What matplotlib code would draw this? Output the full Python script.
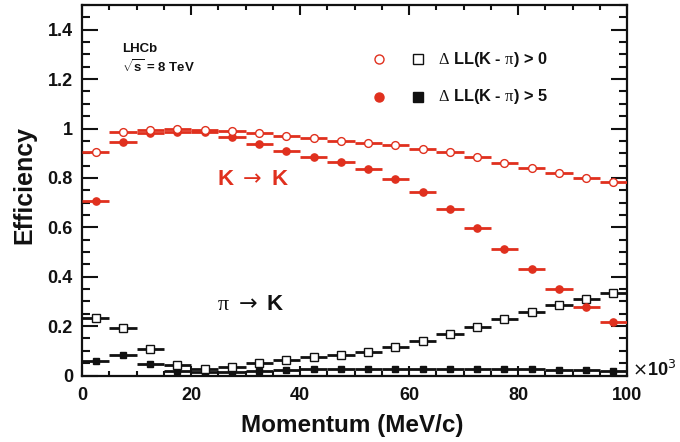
import matplotlib
matplotlib.use("Agg")
import matplotlib.pyplot as plt
from matplotlib.ticker import MultipleLocator, FuncFormatter
from matplotlib.lines import Line2D

plt.rcParams['font.family'] = ['Liberation Sans', 'DejaVu Sans']
plt.rcParams['mathtext.fontset'] = 'custom'
plt.rcParams['mathtext.rm'] = 'DejaVu Sans'
plt.rcParams['mathtext.sf'] = 'Liberation Serif'
plt.rcParams['mathtext.bf'] = 'Liberation Sans:bold'
plt.rcParams['mathtext.it'] = 'Liberation Sans:italic'
plt.rcParams['mathtext.default'] = 'rm'

# momentum bin centres (x10^3 MeV/c), bin half width 2.5
momentum = [2.5, 7.5, 12.5, 17.5, 22.5, 27.5, 32.5, 37.5, 42.5, 47.5,
            52.5, 57.5, 62.5, 67.5, 72.5, 77.5, 82.5, 87.5, 92.5, 97.5]
bin_half = 2.5

k_to_k_dll0 = [0.905, 0.986, 0.994, 0.996, 0.994, 0.990, 0.980, 0.970, 0.961, 0.951,
               0.943, 0.935, 0.919, 0.903, 0.884, 0.862, 0.840, 0.820, 0.800, 0.782]
k_to_k_dll5 = [0.708, 0.947, 0.980, 0.986, 0.984, 0.966, 0.939, 0.909, 0.886, 0.863,
               0.835, 0.794, 0.742, 0.676, 0.596, 0.514, 0.433, 0.349, 0.278, 0.216]
pi_to_k_dll0 = [0.234, 0.193, 0.107, 0.042, 0.026, 0.035, 0.049, 0.062, 0.073, 0.085,
                0.097, 0.116, 0.139, 0.169, 0.197, 0.227, 0.257, 0.285, 0.311, 0.334]
pi_to_k_dll5 = [0.060, 0.081, 0.047, 0.019, 0.013, 0.016, 0.020, 0.024, 0.026, 0.027,
                0.027, 0.027, 0.028, 0.028, 0.028, 0.028, 0.027, 0.024, 0.021, 0.020]

x_ticks = [0, 20, 40, 60, 80, 100]
y_ticks = [0, 0.2, 0.4, 0.6, 0.8, 1.0, 1.2, 1.4]

RED = '#e0301e'
BLK = '#111111'

fig = plt.figure(figsize=(6.8, 4.42), dpi=100)
ax = fig.add_axes([82/680, 1-375.5/442, (627-82)/680, (375.5-5)/442])

def draw(y, marker, face, edge, ms, z):
    ax.errorbar(momentum, y, xerr=bin_half, fmt=marker, mfc=face, mec=edge,
                ecolor=edge, ms=ms, mew=1.0, elinewidth=2.0, capsize=0, zorder=z)

draw(pi_to_k_dll5, 's', BLK, BLK, 5, 3)
draw(pi_to_k_dll0, 's', 'white', BLK, 5.3, 4)
draw(k_to_k_dll5, 'o', RED, RED, 5.2, 5)
draw(k_to_k_dll0, 'o', 'white', RED, 5.6, 6)

ax.set_xlim(0, 100)
ax.set_ylim(0, 1.5)
ax.set_xticks(x_ticks)
ax.set_yticks(y_ticks)
ax.xaxis.set_minor_locator(MultipleLocator(5))
ax.yaxis.set_minor_locator(MultipleLocator(0.05))
ax.yaxis.set_major_formatter(FuncFormatter(lambda v, p: f"{v:g}"))
ax.xaxis.set_major_formatter(FuncFormatter(lambda v, p: f"{v:g}"))
ax.tick_params(which='both', direction='in', top=True, right=True, width=1.5,
               labelsize=13, colors=BLK)
ax.tick_params(axis='y', which='major', length=11.5, pad=6.5)
ax.tick_params(axis='y', which='minor', length=5.8)
ax.tick_params(axis='x', which='major', length=7, pad=8)
ax.tick_params(axis='x', which='minor', length=3.6)
for lab in ax.get_xticklabels() + ax.get_yticklabels():
    lab.set_fontweight('bold')
for s in ax.spines.values():
    s.set_linewidth(1.6)
    s.set_color(BLK)

fig.text(24/680, 1-185/442, 'Efficiency', rotation=90, ha='center', va='center',
         fontsize=18, fontweight='bold', color=BLK)
fig.text(352/680, 1-432/442, 'Momentum (MeV/c)', ha='center', va='baseline',
         fontsize=17.5, fontweight='bold', color=BLK)
fig.text(632/680, 1-376/442, r'$\times$10$^{3}$', ha='left', va='baseline',
         fontsize=13, fontweight='bold', color=BLK)

ax.text(0.073, 0.882, 'LHCb', transform=ax.transAxes, ha='left', va='center',
        fontsize=9.5, fontweight='bold', color=BLK)
ax.text(0.073, 0.835, r'$\sqrt{\mathbf{s}}$ = 8 TeV', transform=ax.transAxes,
        ha='left', va='center', fontsize=9.5, fontweight='bold', color=BLK)

# legend
for yy, rf, bf, txt in [(0.853, 'white', 'white', r'$\mathsf{\Delta}$ LL(K - $\mathsf{\pi}$) > 0'),
                        (0.752, RED, BLK, r'$\mathsf{\Delta}$ LL(K - $\mathsf{\pi}$) > 5')]:
    ax.add_line(Line2D([0.545], [yy], transform=ax.transAxes, marker='o', ms=6.5,
                       mfc=rf, mec=RED, mew=1.0, ls='none', clip_on=False))
    ax.add_line(Line2D([0.616], [yy], transform=ax.transAxes, marker='s', ms=6.5,
                       mfc=bf, mec=BLK, mew=1.0, ls='none', clip_on=False))
    ax.text(0.6525, yy, txt, transform=ax.transAxes, ha='left', va='center',
            fontsize=11.8, fontweight='bold', color=BLK)

ax.text(31.4, 0.795, r'K $\rightarrow$ K', ha='center', va='center',
        fontsize=16, fontweight='bold', color=RED)
ax.text(31.0, 0.288, r'$\mathsf{\pi}$ $\rightarrow$ K', ha='center', va='center',
        fontsize=16, fontweight='bold', color=BLK)

fig.savefig('out.png', dpi=100)
